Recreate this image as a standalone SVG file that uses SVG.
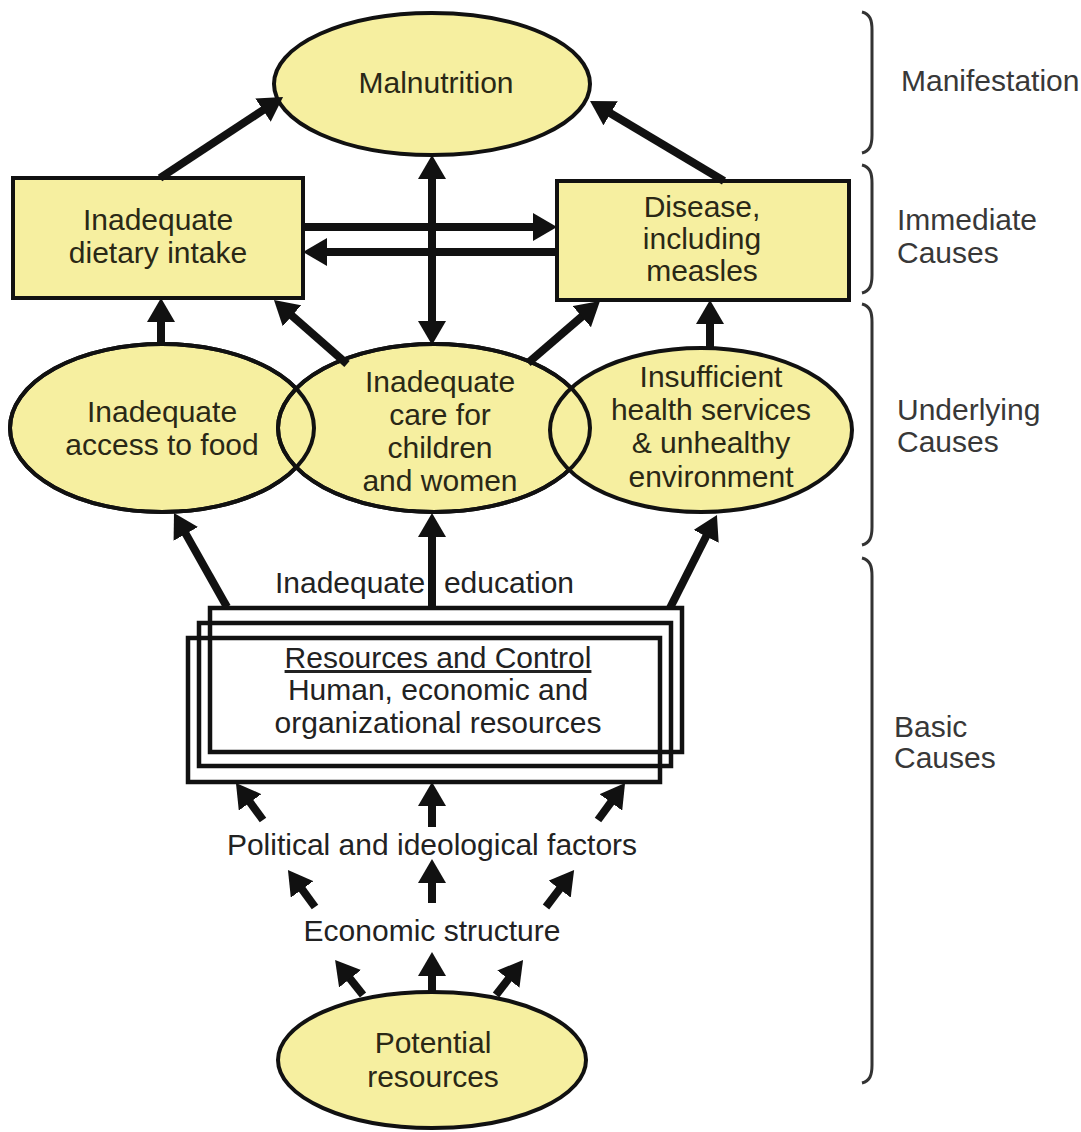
<svg xmlns="http://www.w3.org/2000/svg" width="1081" height="1132" viewBox="0 0 1081 1132">
<style>
.node{fill:#F6EFA0;stroke:#111;stroke-width:4}
.outline{fill:none;stroke:#111;stroke-width:4}
.res{fill:none;stroke:#111;stroke-width:4.5}
.t{font-family:"Liberation Sans",Arial,sans-serif;font-size:30px;fill:#2a2816;text-anchor:middle}
.tb{font-family:"Liberation Sans",Arial,sans-serif;font-size:30px;fill:#222;text-anchor:middle}
.lab{font-family:"Liberation Sans",Arial,sans-serif;font-size:30px;fill:#383838}
.arr{stroke:#111;stroke-width:8;fill:none;marker-end:url(#ah)}
.arr2{stroke:#111;stroke-width:8;fill:none;marker-start:url(#ah);marker-end:url(#ah)}
.br{fill:none;stroke:#333;stroke-width:3}
</style>
<defs>
<marker id="ah" viewBox="0 0 10 10" refX="0.5" refY="5" markerWidth="3" markerHeight="3.5" markerUnits="strokeWidth" orient="auto-start-reverse" preserveAspectRatio="none">
<path d="M0,0 L10,5 L0,10 z" fill="#111"/>
</marker>
</defs>
<rect width="1081" height="1132" fill="#fff"/>

<g id="malnutrition">
<ellipse class="node" cx="432" cy="84" rx="158" ry="71"/>
<text class="t" x="436" y="93">Malnutrition</text>
</g>

<g id="dietary-intake">
<rect class="node" x="13" y="178" width="290" height="120"/>
<text class="t" x="158" y="230">Inadequate</text>
<text class="t" x="158" y="263">dietary intake</text>
</g>

<g id="disease">
<rect class="node" x="557" y="181" width="292" height="119"/>
<text class="t" x="702" y="217">Disease,</text>
<text class="t" x="702" y="249">including</text>
<text class="t" x="702" y="281">measles</text>
</g>

<g id="access-food">
<ellipse class="node" cx="162" cy="428" rx="152" ry="84"/>
<text class="t" x="162" y="422">Inadequate</text>
<text class="t" x="162" y="455">access to food</text>
</g>

<g id="care">
<ellipse class="node" cx="434" cy="428" rx="156" ry="84"/>
<text class="t" x="440" y="392">Inadequate</text>
<text class="t" x="440" y="425">care for</text>
<text class="t" x="440" y="458">children</text>
<text class="t" x="440" y="491">and women</text>
</g>

<g id="health">
<ellipse class="node" cx="701" cy="430" rx="151" ry="82"/>
<text class="t" x="711" y="387">Insufficient</text>
<text class="t" x="711" y="420">health services</text>
<text class="t" x="711" y="453">&amp; unhealthy</text>
<text class="t" x="711" y="487">environment</text>
</g>

<g id="overlap-outlines">
<ellipse class="outline" cx="162" cy="428" rx="152" ry="84"/>
<ellipse class="outline" cx="434" cy="428" rx="156" ry="84"/>
</g>

<g id="education">
<text class="tb" x="0" y="593"><tspan x="350">Inadequate</tspan><tspan x="509">education</tspan></text>
</g>

<g id="resources">
<rect class="res" x="210" y="608" width="472" height="144"/>
<rect class="res" x="199" y="623" width="472" height="143"/>
<rect class="res" x="188" y="638" width="472" height="144"/>
<text class="tb" x="438" y="668" text-decoration="underline">Resources and Control</text>
<text class="tb" x="438" y="700">Human, economic and</text>
<text class="tb" x="438" y="733">organizational resources</text>
</g>

<g id="political">
<text class="tb" x="432" y="855">Political and ideological factors</text>
</g>

<g id="economic">
<text class="tb" x="432" y="941">Economic structure</text>
</g>

<g id="potential">
<ellipse class="node" cx="432" cy="1060" rx="154" ry="68"/>
<text class="t" x="433" y="1053">Potential</text>
<text class="t" x="433" y="1087">resources</text>
</g>

<g id="connectors">
<line class="arr" x1="160" y1="178" x2="264" y2="109.5"/>
<line class="arr" x1="724" y1="181" x2="609.6" y2="112.7"/>
<line class="arr2" x1="432" y1="177.8" x2="432" y2="322.2"/>
<line class="arr" x1="303" y1="227" x2="534.2" y2="227"/>
<line class="arr" x1="557" y1="252" x2="325.8" y2="252"/>
<line class="arr" x1="161" y1="345" x2="161" y2="320.8"/>
<line class="arr" x1="347" y1="364" x2="291.1" y2="315"/>
<line class="arr" x1="528" y1="363" x2="582.7" y2="315.9"/>
<line class="arr" x1="710" y1="347" x2="710" y2="322.8"/>
<line class="arr" x1="227" y1="607" x2="185.2" y2="532.9"/>
<line class="arr" x1="432" y1="607" x2="432" y2="535.8"/>
<line class="arr" x1="670" y1="608" x2="706.7" y2="535.3"/>
<line class="arr" x1="263" y1="820" x2="249.4" y2="801.4"/>
<line class="arr" x1="432" y1="827" x2="432" y2="804.8"/>
<line class="arr" x1="598" y1="820" x2="611.6" y2="801.4"/>
<line class="arr" x1="315" y1="907" x2="301.4" y2="888.4"/>
<line class="arr" x1="432" y1="903" x2="432" y2="881.8"/>
<line class="arr" x1="546" y1="907" x2="560.3" y2="888.2"/>
<line class="arr" x1="363" y1="995" x2="349.3" y2="977.8"/>
<line class="arr" x1="432" y1="992" x2="432" y2="974.8"/>
<line class="arr" x1="496" y1="995" x2="509.1" y2="978.1"/>
</g>

<g id="brackets">
<path class="br" d="M862,12 C870,14 872,20 872,30 L872,135 C872,145 870,151 862,153"/>
<path class="br" d="M862,165 C870,167 872,173 872,183 L872,275 C872,285 870,291 862,293"/>
<path class="br" d="M862,304 C870,306 872,312 872,322 L872,527 C872,537 870,543 862,545"/>
<path class="br" d="M862,558 C870,560 872,566 872,576 L872,1065 C872,1075 870,1081 862,1083"/>
<text class="lab" x="901" y="91">Manifestation</text>
<text class="lab" x="897" y="230">Immediate</text>
<text class="lab" x="897" y="263">Causes</text>
<text class="lab" x="897" y="420">Underlying</text>
<text class="lab" x="897" y="452">Causes</text>
<text class="lab" x="894" y="737">Basic</text>
<text class="lab" x="894" y="768">Causes</text>
</g>
</svg>
